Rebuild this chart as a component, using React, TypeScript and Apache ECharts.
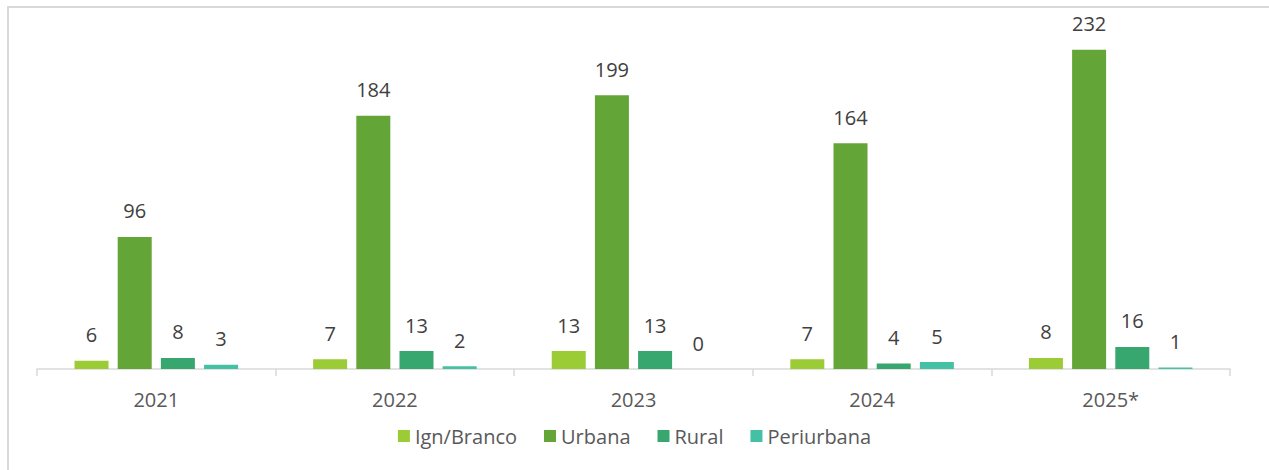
import React, { useEffect, useRef } from "react";
import * as echarts from "echarts";

const categories = ["2021", "2022", "2023", "2024", "2025*"];
const seriesNames = ["Ign/Branco", "Urbana", "Rural", "Periurbana"];
const ignBranco = [6, 7, 13, 7, 8];
const urbana = [96, 184, 199, 164, 232];
const rural = [8, 13, 13, 4, 16];
const periurbana = [3, 2, 0, 5, 1];
const colors = ["#9BCB35", "#63A536", "#37A66F", "#44C1A4"];

export default function App() {
  const ref = useRef<HTMLDivElement>(null);
  useEffect(() => {
    if (!ref.current) return;
    const chart = echarts.init(ref.current, null, { renderer: "svg" });
    const font = "'Open Sans', 'Noto Sans', sans-serif";
    const values = [ignBranco, urbana, rural, periurbana];
    chart.setOption({
      animation: false,
      textStyle: { fontFamily: font },
      graphic: [
        {
          type: "rect",
          shape: { x: 8, y: 7, width: 1300, height: 500 },
          style: { fill: "none", stroke: "#d9d9d9", lineWidth: 2 },
          silent: true,
        },
      ],
      grid: { left: 37, right: 39, top: 25, bottom: 101 },
      legend: {
        data: seriesNames,
        bottom: 19,
        left: "center",
        icon: "rect",
        itemWidth: 12,
        itemHeight: 12,
        itemGap: 27,
        textStyle: { fontSize: 20, color: "#595959", fontFamily: font },
      },
      xAxis: {
        type: "category",
        data: categories,
        axisLine: { lineStyle: { color: "#d9d9d9", width: 1.5 } },
        axisTick: { show: true, length: 7, lineStyle: { color: "#d9d9d9", width: 1.5 } },
        axisLabel: { fontSize: 20, color: "#595959", margin: 20, fontFamily: font },
      },
      yAxis: {
        type: "value",
        min: 0,
        max: 250,
        show: false,
        splitLine: { show: false },
      },
      series: seriesNames.map((name, i) => ({
        name,
        type: "bar",
        data: values[i],
        barWidth: 34,
        barGap: "27%",
        itemStyle: { color: colors[i] },
        label: {
          show: true,
          position: "top",
          distance: 16,
          fontSize: 20,
          color: "#404040",
          fontFamily: font,
        },
      })),
    });
    return () => chart.dispose();
  }, []);
  return (
    <div
      ref={ref}
      style={{ position: "fixed", left: 0, top: 0, width: 1269, height: 470, background: "#fff" }}
    />
  );
}
